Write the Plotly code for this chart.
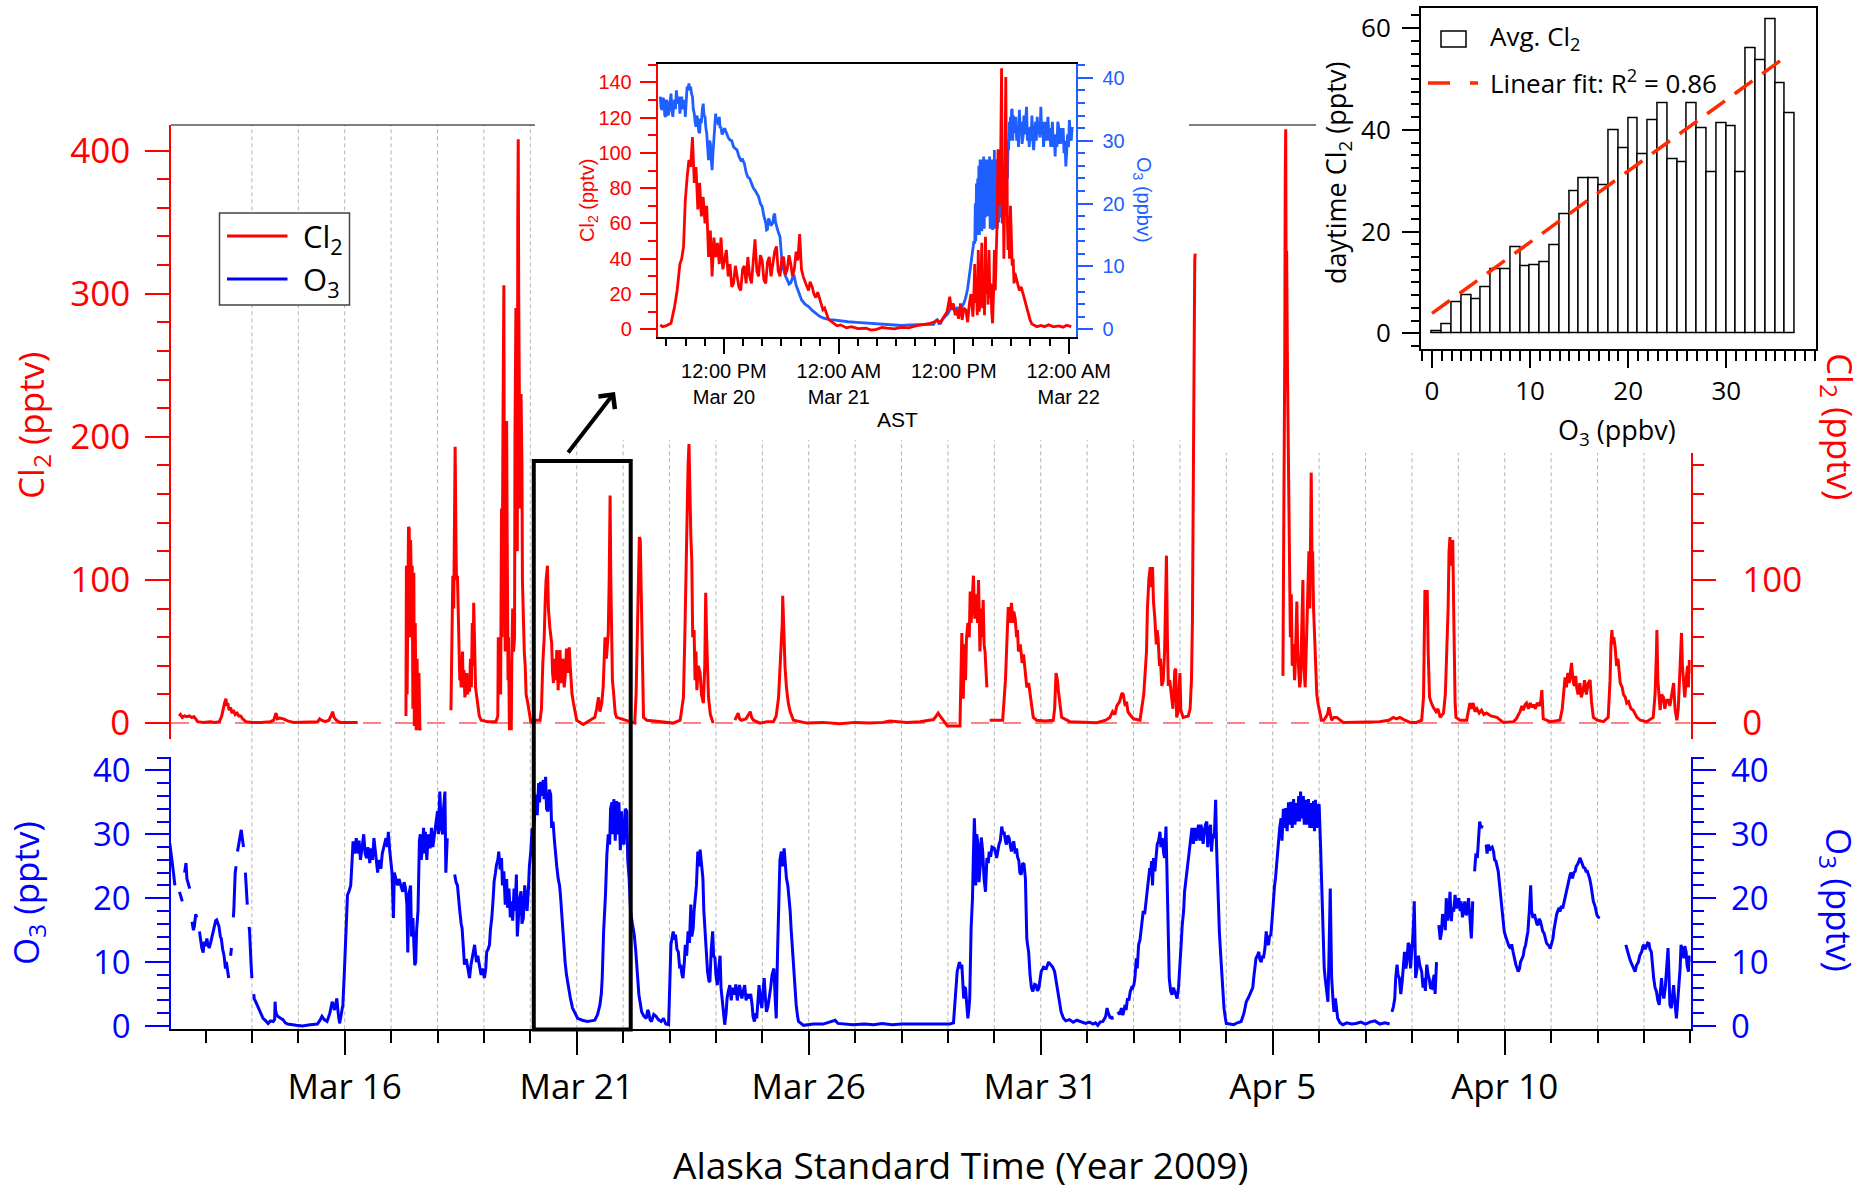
import plotly.graph_objects as go
from datetime import datetime, timedelta

W, H = 1864, 1192

# ------------------------------------------------------------------ data
# main panel Cl2 (pptv): (day of March 2009, value); None = data gap
cl2_main_pts = [
(12.43,5),(12.46,6),(12.50,4),(12.55,5),(12.60,4.5),(12.65,5),(12.70,4),(12.75,4.5),(12.79,3),(12.83,1),(12.95,0.5),(13.10,1),(13.20,0.5),(13.30,1),(13.35,5),(13.38,10),(13.41,14),(13.44,17),(13.46,12),(13.48,14),(13.51,9),(13.54,11),(13.57,7),(13.60,9),(13.64,6),(13.68,7),(13.72,5),(13.76,5),(13.80,3),(13.87,1),(14.0,0.5),(14.2,0.5),(14.40,1),(14.47,2),(14.50,6),(14.52,7),(14.55,3),(14.60,3.5),(14.68,3),(14.77,1.5),(14.9,0.5),(15.1,0.5),(15.3,1),(15.42,1),(15.46,3),(15.50,2),(15.58,1),(15.66,2),(15.72,6),(15.74,8),(15.77,4),(15.82,2),(15.9,0.5),(16.1,0.5),(16.28,0.5),(None,None),
(17.32,5),(17.33,110),(17.345,20),(17.36,130),(17.375,137),(17.39,136),(17.40,60),(17.42,128),(17.44,90),(17.455,110),(17.47,10),(17.49,105),(17.50,-2),(17.52,70),(17.54,-5),(17.56,45),(17.58,-5),(17.60,35),(17.62,-4),(17.64,-5),(None,None),
(18.29,9),(18.31,60),(18.33,103),(18.35,80),(18.37,150),(18.38,193),(18.40,120),(18.41,100),(18.43,103),(18.45,70),(18.46,60),(18.48,30),(18.49,40),(18.51,25),(18.52,35),(18.54,50),(18.55,25),(18.57,37),(18.59,18),(18.61,22),(18.63,35),(18.65,20),(18.67,30),(18.69,22),(18.71,45),(18.73,25),(18.75,70),(18.77,40),(18.78,84),(18.80,50),(18.82,25),(18.84,20),(18.87,12),(18.90,5),(18.94,2),(19.08,1),(19.26,1),(19.30,5),(19.31,60),(19.33,20),(19.345,55),(19.36,20),(19.38,150),(19.39,60),(19.41,200),(19.43,306),(19.44,150),(19.45,120),(19.46,50),(19.47,60),(19.48,170),(19.49,211),(19.50,140),(19.51,95),(19.52,30),(19.53,60),(19.55,-5),(19.57,40),(19.59,-5),(19.60,40),(19.62,80),(19.64,50),(19.66,60),(19.67,200),(19.68,250),(19.69,290),(19.70,180),(19.72,120),(19.73,350),(19.74,408),(19.75,300),(19.76,240),(19.78,150),(19.80,230),(19.82,180),(19.83,100),(19.85,60),(19.87,50),(19.89,40),(19.91,20),(19.94,15),(19.98,5),(20.01,1),(20.05,0),(20.12,2),(20.21,2),(20.24,10),(20.27,42),(20.30,60),(20.32,84),(20.34,100),(20.37,110),(20.39,80),(20.42,67),(20.44,58),(20.46,56),(20.48,35),(20.50,28),(20.52,45),(20.53,42),(20.55,30),(20.57,51),(20.59,35),(20.60,23),(20.62,40),(20.64,51),(20.66,30),(20.68,28),(20.70,45),(20.71,42),(20.73,25),(20.75,32),(20.77,45),(20.78,52),(20.81,35),(20.84,53),(20.86,40),(20.87,32),(20.90,20),(20.93,14),(20.97,6),(21.0,2),(21.14,-1),(21.29,2),(21.39,4),(21.43,10),(21.47,18),(21.50,8),(21.54,14),(21.57,25),(21.61,60),(21.64,45),(21.68,63),(21.70,100),(21.72,159),(21.735,100),(21.75,60),(21.77,30),(21.79,23),(21.83,7),(21.86,4),(22.08,2),(22.25,0),(22.28,20),(22.30,46),(22.33,100),(22.35,130),(22.37,128),(22.39,90),(22.40,74),(22.42,30),(22.44,4),(22.51,2),(23.08,0),(23.23,2),(23.30,18),(23.33,60),(23.36,120),(23.37,151),(23.40,180),(23.42,195),(23.44,150),(23.46,130),(23.48,114),(23.50,60),(23.53,65),(23.55,30),(23.57,50),(23.59,23),(23.62,40),(23.66,35),(23.69,20),(23.73,14),(23.76,40),(23.78,91),(23.80,60),(23.82,30),(23.84,18),(23.88,6),(23.91,2),(23.94,0),(None,None),
(24.41,2),(24.45,5),(24.48,7),(24.51,3),(24.55,2),(24.65,3),(24.70,6),(24.74,8),(24.77,4),(24.81,2),(24.95,0),(25.10,1),(25.24,1),(25.30,5),(25.35,18),(25.38,35),(25.40,50),(25.43,70),(25.44,89),(25.455,70),(25.47,50),(25.49,39),(25.52,25),(25.56,14),(25.60,8),(25.67,2),(25.96,0),(26.3,0.5),(26.67,-0.5),(27.0,0.5),(27.3,0),(27.6,0.5),(27.75,1.5),(27.9,1),(28.11,0.5),(28.4,1),(28.60,2),(28.69,2.5),(28.75,5),(28.79,7),(28.83,5),(28.90,2),(28.99,-2),(29.26,-2),(29.28,30),(29.30,63),(29.32,40),(29.33,17),(29.36,55),(29.38,30),(29.40,59),(29.43,70),(29.46,60),(29.48,92),(29.50,70),(29.53,95),(29.55,103),(29.57,80),(29.58,73),(29.61,90),(29.64,70),(29.66,100),(29.68,60),(29.69,50),(29.72,80),(29.74,60),(29.76,86),(29.78,55),(29.80,50),(29.82,35),(29.84,25),(None,None),
(29.90,2),(30.05,2),(30.18,2),(30.24,30),(30.28,60),(30.30,81),(30.33,70),(30.35,80),(30.37,84),(30.40,70),(30.42,78),(30.45,73),(30.48,60),(30.50,65),(30.52,50),(30.56,55),(30.60,42),(30.63,48),(30.67,35),(30.70,25),(30.74,28),(30.77,20),(30.80,12),(30.84,4),(30.91,2),(31.1,1.5),(31.27,2),(31.30,10),(31.33,35),(31.36,30),(31.38,23),(31.42,10),(31.45,4),(31.63,1),(31.9,0.5),(32.21,0.3),(32.40,2),(32.49,4),(32.55,8),(32.60,6),(32.64,12),(32.70,15),(32.75,21),(32.78,20),(32.82,12),(32.85,15),(32.88,8),(32.92,6),(33.0,3),(33.14,2),(33.22,20),(33.26,45),(33.28,50),(33.30,80),(33.33,100),(33.36,109),(33.38,95),(33.41,109),(33.43,85),(33.46,73),(33.49,55),(33.51,65),(33.53,59),(33.56,40),(33.58,45),(33.61,26),(33.64,30),(33.67,50),(33.69,80),(33.71,117),(33.73,60),(33.75,26),(33.78,30),(33.82,20),(33.85,10),(33.89,37),(33.91,38),(33.93,4),(33.96,8),(34.00,35),(34.02,9),(34.07,4),(34.18,5),(34.22,10),(34.25,31),(34.27,72),(34.29,208),(34.31,280),(34.32,324),(34.33,328),(None,None),
(36.22,33),(36.24,120),(36.26,260),(36.27,380),(36.28,415),(36.29,300),(36.30,330),(36.32,240),(36.33,200),(36.35,120),(36.36,110),(36.38,60),(36.40,90),(36.42,40),(36.45,55),(36.47,30),(36.48,35),(36.50,60),(36.52,85),(36.54,50),(36.56,40),(36.58,25),(36.60,30),(36.62,60),(36.65,100),(36.67,40),(36.70,25),(36.73,60),(36.76,90),(36.78,120),(36.80,80),(36.82,150),(36.83,175),(36.85,100),(36.86,120),(36.88,80),(36.90,60),(36.92,35),(36.95,20),(36.98,13),(37.02,5),(37.05,2),(37.10,2),(37.18,6),(37.21,11),(37.23,8),(37.27,2),(37.32,4),(37.38,4),(37.52,0.5),(37.9,0.5),(38.3,1),(38.5,2),(38.6,4),(38.67,3),(38.74,4),(38.85,2),(38.96,0.5),(39.10,0.5),(39.21,2),(39.25,18),(39.27,60),(39.28,93),(39.30,80),(39.32,90),(39.33,93),(39.35,50),(39.38,18),(39.42,14),(39.46,11),(39.52,8),(39.56,10),(39.61,4),(39.65,6),(39.68,7),(39.72,20),(39.75,46),(39.78,80),(39.80,120),(39.82,130),(39.85,110),(39.88,128),(39.90,80),(39.91,46),(39.93,15),(39.95,4),(40.04,2),(40.18,2),(40.21,8),(40.25,14),(40.28,10),(40.32,14),(40.36,8),(40.40,10),(40.45,7),(40.50,9),(40.55,6),(40.61,7),(40.70,5),(40.83,4),(40.97,0.5),(41.19,1),(41.25,3),(41.30,6),(41.33,8),(41.37,12),(41.40,9),(41.44,13),(41.47,14),(41.51,10),(41.55,14),(41.59,11),(41.62,13),(41.66,10),(41.70,14),(41.75,12),(41.78,16),(41.80,23),(41.81,10),(41.83,3),(41.98,1),(42.19,2),(42.24,10),(42.27,20),(42.30,32),(42.33,25),(42.36,35),(42.39,28),(42.42,38),(42.44,42),(42.47,30),(42.50,26),(42.53,33),(42.55,25),(42.58,20),(42.62,28),(42.65,18),(42.69,23),(42.72,30),(42.76,20),(42.80,28),(42.84,30),(42.87,15),(42.91,4),(43.0,2),(43.13,1),(43.23,4),(43.27,30),(43.29,55),(43.31,65),(43.33,55),(43.35,60),(43.38,53),(43.41,40),(43.44,45),(43.47,30),(43.49,28),(43.53,25),(43.56,20),(43.60,18),(43.63,14),(43.67,15),(43.72,10),(43.77,9),(43.85,4),(43.92,2),(44.06,1),(44.20,4),(44.24,20),(44.27,50),(44.28,65),(44.30,30),(44.33,15),(44.35,9),(44.38,20),(44.42,18),(44.45,10),(44.49,16),(44.53,16),(44.56,12),(44.60,20),(44.64,28),(44.67,10),(44.71,2),(44.74,10),(44.77,35),(44.80,55),(44.81,63),(44.83,40),(44.86,25),(44.88,18),(44.91,30),(44.94,40),(44.96,25),(44.98,44),(45.0,35),
]

# main panel O3: (day of March 2009, value)
o3_main_pts = [
(12.23,28.6),(12.26,27),(12.28,26.3),(12.31,24),(12.34,22),(None,None),
(12.44,21),(12.47,20),(12.50,19.5),(None,None),
(12.55,24),(12.58,25.5),(12.60,23),(12.63,22),(12.66,21.5),(None,None),
(12.71,16.3),(12.74,15),(12.76,15.6),(12.79,17.5),(12.81,17),(None,None),
(12.87,14.8),(12.90,13),(12.92,12.2),(12.95,11.5),(12.97,13.2),(13.00,12.5),(13.03,13.7),(13.05,12.8),(13.08,12.2),(13.11,13),(13.13,13.7),(13.16,14.5),(13.19,15.8),(13.22,16.5),(13.24,16.6),(13.27,16),(13.29,15.6),(13.32,14),(13.34,13.7),(13.37,12),(13.40,11),(13.43,9),(13.45,10),(13.48,8.5),(13.50,7.5),(None,None),
(13.54,11),(13.56,12.2),(None,None),
(13.60,17),(13.61,18),(13.64,24),(13.66,25),(None,None),(13.69,27.3),(13.72,28.5),(13.75,30),(13.77,30.7),(13.80,29),(13.82,28),(None,None),
(13.86,24),(13.87,23),(13.90,19),(None,None),(13.94,15.5),(13.95,14.8),(13.98,10),(14.00,7.5),(None,None),
(14.04,5),(14.05,4.3),(14.10,3.5),(14.14,2.8),(14.19,2),(14.24,1.2),(14.30,0.8),(14.35,0.4),(14.40,0.8),(14.46,0.7),(14.49,1),(14.50,3.8),(14.51,2.5),(14.53,1.8),(14.56,1.5),(14.62,1.2),(14.67,1),(14.72,0.5),(14.77,0.3),(14.95,0.1),(15.09,0),(15.25,0.2),(15.41,0.3),(15.46,0.8),(15.51,1.5),(15.56,1),(15.62,0.7),(15.68,2),(15.73,3.8),(15.78,2.5),(15.83,4.3),(15.86,2),(15.89,0.4),(15.93,2),(15.96,3.3),(15.99,8),(16.02,12.7),(16.04,17),(16.06,20.5),(16.09,21),(16.13,22),(16.16,26),(16.18,28.9),(16.21,27),(16.25,29.4),(16.28,27),(16.31,29),(16.34,26),(16.36,27.3),(16.39,29),(16.41,30),(16.44,27),(16.47,26.3),(16.50,28),(16.54,25.5),(16.57,27.8),(16.60,26),(16.63,29.4),(16.66,27),(16.68,25.2),(16.71,24),(16.74,26),(16.78,24.6),(16.81,27),(16.85,28),(16.89,29.4),(16.92,28),(16.94,30.4),(16.97,27.5),(16.99,25.7),(17.02,24),(17.05,16.9),(17.07,24),(17.10,23.1),(17.14,22),(17.17,23),(17.21,22),(17.25,21),(17.28,22.5),(17.31,21.6),(17.34,19),(17.36,11.5),(17.38,20.5),(17.42,22),(17.44,14),(17.47,16.9),(17.49,13),(17.51,9.5),(17.53,10),(17.55,15),(17.58,18),(17.60,24),(17.61,29),(17.63,30),(17.65,26),(17.68,28.4),(17.70,31),(17.72,27),(17.74,30.4),(17.77,26),(17.80,30),(17.84,27.8),(17.87,31),(17.90,28),(17.93,30),(17.96,32),(18.00,33.6),(18.02,30),(18.05,36.7),(18.08,31),(18.11,30),(18.13,34),(18.16,36.7),(18.18,24),(18.21,29.4),(None,None),
(18.37,23.7),(18.40,22.5),(18.43,22),(18.45,20),(18.48,18),(18.51,16),(18.53,15.3),(18.56,12),(18.58,9.6),(18.62,10.5),(18.66,8.5),(18.69,7.5),(18.72,9.5),(18.76,11.5),(18.80,12.7),(18.84,10),(18.87,11),(18.90,9.6),(18.94,8),(18.97,9),(19.01,7.5),(19.04,9),(19.06,11.6),(19.09,12),(19.12,12.7),(19.14,15),(19.17,16.9),(19.20,20),(19.22,22.6),(19.25,24),(19.27,25.2),(19.30,26),(19.32,27.3),(19.35,24.5),(19.38,26.3),(19.40,22),(19.43,24.2),(19.46,19),(19.49,23),(19.51,18.5),(19.54,21.5),(19.57,17),(19.59,19.5),(19.62,16.5),(19.65,21.5),(19.67,18),(19.70,23.7),(19.72,14),(19.75,17.9),(19.77,20),(19.80,21.1),(19.82,16),(19.85,16.9),(19.88,22),(19.91,19.5),(19.93,18),(19.96,21.5),(19.98,25),(20.01,27.3),(20.04,31),(20.07,30),(20.10,35),(20.12,36.2),(20.15,33),(20.18,38),(20.20,35),(20.22,38.2),(20.25,36),(20.28,38.5),(20.30,35.5),(20.33,39),(20.35,34),(20.38,33.6),(20.41,37),(20.44,36.2),(20.46,31),(20.49,32),(20.52,29),(20.54,26.8),(20.57,25),(20.60,23.1),(20.63,22),(20.65,20.5),(20.68,17),(20.70,15.3),(20.73,12),(20.75,10),(20.78,8),(20.81,6.4),(20.86,4.5),(20.91,2.8),(20.96,2),(21.02,1.2),(21.12,0.9),(21.23,0.7),(21.31,0.8),(21.39,0.9),(21.45,1.8),(21.50,3.3),(21.53,5),(21.55,7.5),(21.58,14.8),(21.60,17),(21.62,20.5),(21.65,26.8),(21.68,30),(21.71,28.4),(21.73,34),(21.76,35),(21.78,30),(21.80,35.5),(21.83,29),(21.86,35.2),(21.88,30),(21.91,35),(21.94,27.5),(21.97,33.6),(21.99,29),(22.02,28.4),(22.05,34),(22.08,33.6),(22.10,26),(22.13,23.1),(22.16,18),(22.20,16),(22.24,14.3),(22.27,12),(22.29,10),(22.32,7),(22.34,4.9),(22.40,2.2),(22.45,1.5),(22.50,1.2),(22.53,2.5),(22.55,2.2),(22.58,1),(22.61,0.7),(22.66,1.8),(22.71,1.5),(22.76,1),(22.82,0.7),(22.87,1.2),(22.92,0.3),(22.98,0.2),(23.00,5),(23.03,12.7),(23.06,14),(23.08,14.8),(23.11,13.5),(23.13,14.3),(23.16,12),(23.19,11.6),(23.22,9),(23.24,9.6),(23.27,8),(23.29,7.5),(23.32,10),(23.34,12.7),(23.37,11),(23.40,14.8),(23.43,13),(23.46,19),(23.48,14),(23.51,15.3),(23.53,18),(23.56,20),(23.58,22),(23.61,27.3),(23.63,25),(23.66,27.6),(23.69,25),(23.72,23.1),(23.74,18),(23.77,14.8),(23.80,10),(23.82,8.5),(23.85,7),(23.87,6.9),(23.90,12),(23.93,14.8),(23.95,11),(23.98,10.6),(24.00,8),(24.03,6.4),(24.06,9),(24.09,11),(24.11,6),(24.14,3.8),(24.17,1.5),(24.19,0.2),(24.22,2),(24.24,4.3),(24.27,5.5),(24.30,6.4),(24.33,4),(24.36,6),(24.40,4.9),(24.43,6.5),(24.46,4),(24.51,6.4),(24.54,5),(24.56,4.3),(24.59,5.5),(24.62,6.4),(24.65,4),(24.68,5),(24.72,4.3),(24.75,5),(24.78,3.3),(24.80,1.5),(24.83,0.7),(24.86,2),(24.88,1.2),(24.90,4),(24.93,6.4),(24.96,4),(24.99,2.8),(25.01,5),(25.04,7.5),(25.07,4),(25.09,2.2),(25.12,3),(25.15,4.3),(25.18,6),(25.21,8),(25.25,9),(25.28,4),(25.30,1.2),(25.33,12),(25.36,22),(25.38,26),(25.41,27.3),(25.44,25),(25.47,27.8),(25.50,24.5),(25.52,23.1),(25.55,22),(25.57,20.5),(25.60,18),(25.62,15.3),(25.65,12),(25.68,8.5),(25.70,5),(25.73,3.3),(25.76,1.5),(25.78,0.7),(25.89,0.1),(26.10,0.3),(26.31,0.3),(26.45,0.6),(26.52,0.7),(26.57,0.9),(26.63,0.4),(26.80,0.3),(26.95,0.2),(27.20,0.3),(27.40,0.2),(27.58,0.4),(27.80,0.2),(28.00,0.3),(28.30,0.3),(28.50,0.2),(28.72,0.3),(29.04,0.3),(29.12,0.5),(29.15,3.3),(29.18,6),(29.20,8.5),(29.23,9.5),(29.25,10),(29.28,9),(29.30,9.6),(29.32,7),(29.34,4.3),(29.36,6),(29.38,5.9),(29.41,3),(29.43,1.2),(29.45,2.5),(29.47,4.3),(29.50,15.3),(29.53,20),(29.55,27),(29.57,32.5),(29.59,28),(29.60,22),(29.62,30),(29.65,28.4),(29.67,22.5),(29.70,25.3),(29.72,29.5),(29.75,27.3),(29.78,23),(29.81,21),(29.84,26.3),(29.87,25.5),(29.89,27.3),(29.92,26.5),(29.95,28),(30.00,27.8),(30.03,27),(30.05,26.3),(30.08,27.5),(30.10,28.4),(30.13,29),(30.16,31.2),(30.19,30),(30.21,30.4),(30.24,29),(30.26,28.4),(30.29,29.8),(30.32,29.4),(30.35,28),(30.37,27.3),(30.40,28.5),(30.42,28.9),(30.45,27),(30.48,27.8),(30.50,26.5),(30.53,25.8),(30.55,24),(30.58,23.7),(30.61,25.5),(30.64,25.3),(30.67,23.1),(30.70,13.7),(30.72,12.5),(30.74,11.6),(30.77,8),(30.80,6),(30.83,5.4),(30.87,6.5),(30.90,6.4),(30.93,5.5),(30.96,5.9),(31.01,8.5),(31.06,9.2),(31.12,9),(31.17,10),(31.22,9.6),(31.26,9.2),(31.30,8.5),(31.33,7),(31.36,5.4),(31.40,3.5),(31.44,2.2),(31.49,1.2),(31.54,0.8),(31.62,1),(31.70,0.6),(31.78,0.9),(31.86,0.7),(31.92,0.5),(31.97,0.4),(32.05,0.6),(32.13,0.3),(32.18,0.5),(32.23,0.1),(32.28,0.6),(32.34,0.7),(32.40,1.5),(32.43,2.8),(32.45,2.2),(32.48,1.5),(32.50,1.2),(32.53,1.5),(32.55,1),(None,None),
(32.66,2.2),(32.70,1.8),(32.74,2.8),(32.77,1.7),(32.82,3.3),(32.84,2.5),(32.87,4.3),(32.90,4),(32.93,5.4),(32.96,6),(32.98,5.9),(33.01,6.5),(33.03,7.5),(33.06,10.6),(33.08,9),(33.11,12.7),(33.14,13.5),(33.16,14.8),(33.19,16),(33.21,18),(33.24,17.5),(33.27,19.5),(33.30,21),(33.32,22),(33.35,24.7),(33.37,24),(33.39,25.8),(33.41,22),(33.43,26.3),(33.46,24.2),(33.48,26),(33.51,28.4),(33.54,29),(33.57,30.4),(33.59,28),(33.62,29.4),(33.65,27),(33.67,26.3),(33.70,31.2),(33.72,25),(33.74,17.9),(33.77,7.5),(33.80,5.5),(33.83,4.9),(33.86,6),(33.89,5.4),(33.92,4.5),(33.94,4.3),(33.97,6),(33.99,8),(34.02,12),(34.05,15.8),(34.08,18),(34.10,21),(34.13,23),(34.15,24.2),(34.18,26),(34.21,28.4),(34.24,30),(34.26,31),(34.29,28.5),(34.32,31),(34.35,29),(34.37,30.4),(34.40,31.5),(34.43,29),(34.45,31.5),(34.47,31),(34.50,28.5),(34.52,29.9),(34.55,31.5),(34.58,32),(34.60,28),(34.63,30.4),(34.66,31.5),(34.68,27.3),(34.71,30),(34.74,29.4),(34.77,35.4),(34.79,28),(34.81,23.1),(34.83,18),(34.85,14.8),(34.88,11),(34.90,8.5),(34.93,5),(34.95,2.8),(34.98,1.2),(35.00,0.4),(35.08,0.3),(35.16,0.2),(35.24,0.5),(35.32,0.7),(35.38,2),(35.43,3.8),(35.48,4.5),(35.54,5.4),(35.57,6),(35.59,7.5),(35.62,9),(35.64,10.6),(35.67,11),(35.70,11.6),(35.72,10.5),(35.75,10),(35.78,11),(35.80,10.6),(35.83,12),(35.86,14.8),(35.88,13),(35.91,12.7),(35.93,14),(35.96,14.3),(35.99,17),(36.02,20.5),(36.04,22),(36.06,23.1),(36.09,26),(36.12,28.4),(36.15,31),(36.18,32.5),(36.20,29),(36.23,34),(36.26,31),(36.28,34.1),(36.31,30.5),(36.34,35),(36.36,31.5),(36.39,35.1),(36.42,31),(36.45,35.5),(36.48,31.5),(36.50,34.9),(36.53,32),(36.56,36),(36.58,32),(36.60,36.7),(36.63,32.5),(36.66,36),(36.68,31.5),(36.71,35.4),(36.74,31.5),(36.77,35.5),(36.80,31),(36.82,34.9),(36.85,31),(36.88,35.2),(36.90,30.5),(36.92,35.4),(36.95,31),(36.98,34.5),(37.00,34.7),(37.03,28.4),(37.06,20.5),(37.09,12.7),(37.11,9),(37.13,7.5),(37.16,5),(37.19,3.8),(37.21,10),(37.24,21.5),(37.26,12),(37.27,7.5),(37.30,4),(37.32,2.2),(37.35,4.3),(37.38,2),(37.40,1.2),(37.45,0.5),(37.51,0.2),(37.60,0.5),(37.70,0.3),(37.79,0.4),(37.90,0.6),(38.00,0.3),(38.09,0.6),(38.20,0.8),(38.31,0.3),(38.42,0.5),(38.52,0.3),(None,None),
(38.57,2.2),(38.60,3),(38.63,4.3),(38.65,7.5),(38.68,9.6),(38.70,8),(38.73,7.5),(38.76,5),(38.79,6.9),(38.81,9),(38.84,11.6),(38.87,9),(38.89,10),(38.92,13),(38.94,12.7),(38.97,9),(38.99,10.6),(39.02,14),(39.04,17),(39.05,19.5),(39.07,12),(39.08,7.5),(39.11,9),(39.14,11),(39.17,9.5),(39.21,8.5),(39.24,6),(39.27,7.5),(39.29,5.5),(39.32,9.6),(39.35,8),(39.37,7.5),(39.40,6),(39.43,5.9),(39.45,7),(39.48,8),(39.50,5),(39.53,10),(None,None),
(39.58,15.8),(39.61,13.5),(39.64,14.8),(39.66,17.5),(39.69,16.9),(39.72,15),(39.74,20),(39.77,16.5),(39.80,17.9),(39.82,21),(39.85,16.4),(39.87,18.5),(39.90,17.9),(39.93,20.5),(39.96,18.4),(39.98,19),(40.01,20),(40.04,18),(40.06,19.5),(40.09,17),(40.11,18.4),(40.14,19.5),(40.17,17.3),(40.20,18.5),(40.22,20),(40.25,17),(40.28,13.7),(40.30,17),(40.31,19.5),(None,None),
(40.35,24.2),(40.38,27),(40.41,26.3),(40.44,29),(40.46,32),(40.49,31),(40.52,31.4),(None,None),
(40.60,28.4),(40.62,27),(40.65,28.4),(40.67,27.5),(40.70,27.8),(40.73,28),(40.76,27.3),(40.78,26),(40.81,25.8),(40.84,24.5),(40.86,24.2),(40.89,22),(40.92,20),(40.94,18.4),(40.97,16),(40.99,14.8),(41.02,14),(41.05,13.2),(41.09,12.5),(41.13,12.1),(41.15,12.8),(41.18,11.6),(41.21,10.5),(41.24,9.6),(41.27,9),(41.29,8.5),(41.32,9),(41.34,10),(41.37,10.5),(41.40,11),(41.42,12),(41.45,12.7),(41.48,14),(41.50,14.8),(41.53,18),(41.55,20),(41.56,22),(41.58,18),(41.61,16.9),(41.64,17.5),(41.66,16.9),(41.69,16),(41.72,15.8),(41.74,16.8),(41.77,16.4),(41.80,15.5),(41.82,14.8),(41.85,14.5),(41.88,13.7),(41.90,13),(41.93,12.7),(41.96,12.5),(41.98,12.1),(42.01,13),(42.04,13.7),(42.06,15),(42.09,16.4),(42.12,17.5),(42.14,17.9),(42.17,18.5),(42.19,17.9),(42.22,18.8),(42.25,18.4),(42.28,19.5),(42.30,20),(42.33,21),(42.35,22),(42.38,23),(42.41,23.7),(42.43,24),(42.46,23.1),(42.49,24),(42.52,24.2),(42.54,25),(42.57,25.3),(42.60,25.8),(42.62,26.3),(42.65,25.8),(42.67,25.3),(42.70,24.8),(42.73,24.7),(42.75,24.2),(42.78,24.2),(42.81,23.5),(42.83,23.1),(42.86,22),(42.89,20.5),(42.91,19.5),(42.94,18.9),(42.97,18),(42.99,17.3),(43.02,17),(43.05,16.9),(None,None),
(43.61,12.7),(43.65,11.5),(43.69,10.6),(43.72,10),(43.74,9.6),(43.78,9),(43.81,8.5),(43.84,9.5),(43.88,10),(43.91,11),(43.95,11.6),(43.98,12.5),(44.00,12.7),(44.03,12),(44.06,12.7),(44.08,13),(44.11,12.9),(44.13,12),(44.16,11.6),(44.18,9.5),(44.21,7.5),(44.24,6),(44.27,5.4),(44.30,4),(44.33,3.3),(44.35,5),(44.38,7.5),(44.40,5.5),(44.43,4.3),(44.46,6),(44.49,8.5),(44.51,11),(44.52,12.2),(44.54,8),(44.56,3.3),(44.59,2.8),(44.62,5),(44.64,6.4),(44.67,3.5),(44.70,1.2),(44.72,3),(44.75,5.4),(44.78,9),(44.80,12.7),(44.83,11.5),(44.86,10.6),(44.88,12.5),(44.91,11.6),(44.93,9.5),(44.96,8.5),(44.98,11),(45.0,10),
]

# inset: hours after 2009-03-20 00:00 AST
cl2_inset_pts = [
(5.36,2.5),(5.6,1.5),(5.92,1.9),(6.2,2.8),(6.48,3.4),(6.85,12.8),(7.12,22),(7.41,37),(7.6,40),(7.79,47),(7.97,73),(8.16,86),(8.35,96),(8.53,92),(8.72,109),(8.91,83),(9.09,92),(9.28,68),(9.47,83),(9.65,64),(9.84,75),(10.03,60),(10.21,70),(10.40,41),(10.59,56),(10.77,30),(10.96,52),(11.14,41),(11.33,49),(11.52,37),(11.70,52),(11.89,34),(12.08,41),(12.26,45),(12.45,30),(12.64,37),(12.82,24),(13.01,26),(13.2,36),(13.38,30),(13.57,24),(13.76,22),(13.95,34),(14.13,36),(14.32,26),(14.50,41),(14.69,30),(14.88,26),(15.06,40),(15.25,51),(15.44,33),(15.62,30),(15.81,42),(16.00,39),(16.18,28),(16.37,26),(16.55,38),(16.74,41),(16.92,30),(17.11,36),(17.3,44),(17.49,47),(17.67,33),(17.86,30),(18.05,40),(18.23,41),(18.42,31),(18.61,34),(18.8,42),(18.98,37),(19.17,30),(19.35,34),(19.54,44),(19.72,39),(19.91,54),(20.10,34),(20.28,30),(20.55,26),(20.84,22),(21.0,27),(21.22,24),(21.4,20),(21.59,18),(21.8,21),(21.96,18),(22.15,14),(22.34,11),(22.52,12),(22.71,9),(22.9,6),(23.08,5),(23.45,3.4),(23.8,2),(24.20,2.5),(24.8,0.8),(25.32,1.5),(26.0,0.4),(26.81,0.6),(27.4,-0.5),(27.93,0),(28.5,1),(29.05,0.6),(29.8,0.2),(30.54,1.1),(31.3,0.8),(32.03,1.9),(32.8,2.6),(33.53,3.4),(34.0,4.2),(34.27,5.3),(34.6,3.8),(35.02,7.2),(35.3,10),(35.58,18.5),(35.75,11),(35.95,14.7),(36.15,8),(36.32,11),(36.50,6),(36.70,14.7),(36.88,5.3),(37.05,12),(37.26,11),(37.45,4),(37.63,14.7),(37.8,20),(38.00,7.2),(38.1,20),(38.19,37),(38.28,15),(38.37,22),(38.46,8),(38.56,45),(38.65,10),(38.75,15),(38.84,30),(38.93,49),(39.02,12),(39.12,26),(39.21,8),(39.31,52.5),(39.40,20),(39.49,36),(39.58,14),(39.68,45),(39.77,18),(39.87,26),(39.96,10),(40.05,3.4),(40.15,20),(40.24,45),(40.33,22),(40.43,41),(40.52,60),(40.62,102),(40.71,70),(40.80,73),(40.90,100),(40.99,148),(41.08,60),(41.17,83),(41.23,40),(41.29,64),(41.36,100),(41.43,143),(41.49,90),(41.55,102),(41.60,60),(41.66,45),(41.73,64),(41.82,40),(41.92,70),(42.01,48),(42.10,36),(42.20,40),(42.29,26),(42.38,32),(42.48,30),(42.66,25),(42.85,22),(43.04,24),(43.23,20),(43.4,17),(43.60,13),(43.78,8),(43.97,5.3),(44.15,3),(44.34,2.5),(44.7,1.5),(45.1,2.2),(45.46,1.5),(45.9,2.6),(46.4,1.4),(46.95,1.9),(47.4,1.2),(47.8,2.3),(48.26,1.5),
]
o3_inset_pts = [
(5.36,37.0),(5.45,35.2),(5.55,34.9),(5.64,36.8),(5.74,36.5),(5.83,34),(5.92,33.8),(6.02,36.5),(6.11,36.0),(6.2,34),(6.30,34.9),(6.39,37),(6.48,37.5),(6.58,35),(6.67,33.8),(6.76,36),(6.86,36.5),(6.95,35),(7.04,38.0),(7.13,36.5),(7.23,35.9),(7.32,37),(7.41,34.3),(7.5,36),(7.60,37.0),(7.7,35),(7.79,35.4),(7.88,36.5),(7.97,33.8),(8.06,36),(8.16,38.6),(8.25,38.2),(8.35,39.1),(8.44,38),(8.53,38.6),(8.62,37.5),(8.72,37.0),(8.81,35),(8.91,34.3),(9.0,33),(9.09,32.2),(9.18,34),(9.28,33.3),(9.37,31.5),(9.47,31.2),(9.56,33.5),(9.65,32.8),(9.75,35),(9.84,35.9),(9.93,34),(10.03,33.8),(10.12,32),(10.21,31.2),(10.3,29),(10.40,26.9),(10.5,30),(10.59,29.6),(10.68,27),(10.77,25.3),(10.86,28),(10.96,30.7),(11.05,33),(11.14,34.3),(11.24,33),(11.33,33.3),(11.42,32.5),(11.52,33.8),(11.61,32),(11.70,32.2),(11.8,31),(11.89,31.2),(12.08,32),(12.26,31.2),(12.45,30.5),(12.64,30.1),(12.82,30),(13.01,29.0),(13.2,28.8),(13.38,28.5),(13.57,27.5),(13.76,26.9),(13.95,27),(14.13,26.4),(14.32,25),(14.50,24.2),(14.69,24),(14.88,23.2),(15.06,22.5),(15.25,22.1),(15.44,21.5),(15.62,21.1),(15.81,20),(16.00,19.5),(16.18,18),(16.37,16.9),(16.46,15.8),(16.55,15.9),(16.64,17.6),(16.74,17.4),(16.92,16.5),(17.11,16.9),(17.2,18),(17.30,18.4),(17.4,17),(17.49,16.3),(17.67,15.5),(17.86,14.7),(17.95,12.5),(18.05,11.0),(18.14,10),(18.23,9.5),(18.42,8.5),(18.61,7.9),(18.8,7.2),(18.98,7.4),(19.17,8.2),(19.35,8.4),(19.54,7),(19.72,6.3),(19.91,5.5),(20.10,4.7),(20.47,4),(20.84,3.6),(21.22,3),(21.59,2.5),(21.96,2.1),(22.34,1.8),(22.71,1.6),(23.08,1.5),(23.45,1.5),(23.83,1.4),(24.39,1.3),(24.95,1.2),(25.88,1.1),(26.81,1.0),(27.74,0.8),(28.68,0.7),(29.61,0.6),(30.54,0.6),(31.47,0.7),(32.41,0.7),(33.15,0.8),(33.90,0.8),(34.08,1.3),(34.27,1.5),(34.45,0.9),(34.64,1.0),(34.83,1.6),(35.02,2.0),(35.2,2.2),(35.39,2.5),(35.58,3),(35.76,3.6),(35.95,3.2),(36.14,3.1),(36.32,3.4),(36.51,3.3),(36.70,3.4),(36.88,3.6),(37.07,4.2),(37.26,5.1),(37.45,6.5),(37.63,8.4),(37.82,10.5),(38.00,12.6),(38.10,14),(38.19,13.6),(38.25,20),(38.30,14),(38.37,23.2),(38.43,15),(38.50,24),(38.56,16.9),(38.62,26),(38.68,15),(38.75,27.0),(38.81,16),(38.87,26),(38.93,15.6),(39.0,27),(39.06,17),(39.12,27.5),(39.18,16),(39.25,26),(39.31,17.8),(39.37,27),(39.43,19),(39.49,25.3),(39.55,18),(39.62,27),(39.68,22.1),(39.74,27.5),(39.80,16),(39.87,26.9),(39.93,18),(39.99,27),(40.05,15.8),(40.12,27),(40.18,17),(40.24,28.5),(40.30,16),(40.37,27),(40.43,17.8),(40.49,25),(40.55,16),(40.62,23.2),(40.68,17),(40.74,24),(40.80,17.8),(40.86,25),(40.93,18),(40.99,22.1),(41.05,17),(41.11,24),(41.17,17.8),(41.24,25),(41.30,18),(41.36,21.1),(41.42,27),(41.49,18),(41.55,26.9),(41.61,24),(41.67,30),(41.73,28.5),(41.79,33),(41.86,30),(41.92,33.8),(41.98,31),(42.04,35),(42.10,34.9),(42.16,30),(42.23,34),(42.29,31.2),(42.38,33),(42.48,33.8),(42.57,30),(42.66,32.2),(42.76,29),(42.85,34.9),(42.95,31),(43.04,33),(43.13,29.5),(43.23,30.6),(43.32,34),(43.41,31),(43.51,33.5),(43.60,35.4),(43.69,30),(43.79,32),(43.88,29),(43.97,32.2),(44.06,30),(44.16,34),(44.25,30),(44.34,28.5),(44.43,31),(44.53,33),(44.62,30),(44.71,33.8),(44.81,31),(44.9,33),(45.0,30.5),(45.09,35.4),(45.18,31),(45.28,33),(45.37,29),(45.46,30.7),(45.56,33),(45.65,30),(45.74,32),(45.84,33.8),(45.93,30),(46.02,32),(46.12,29),(46.21,31.2),(46.3,33),(46.40,29),(46.49,31),(46.58,27.5),(46.67,31),(46.77,29),(46.86,33),(46.95,32.2),(47.05,29.5),(47.14,32),(47.23,30),(47.33,29.6),(47.42,32),(47.51,28),(47.61,30),(47.70,25.9),(47.79,30),(47.89,31),(47.98,29),(48.07,33.3),(48.16,31),(48.26,30),(48.37,32.2),
]

# histogram inset: O3 bin centres (ppbv) and mean daytime Cl2 (pptv)
hist_o3_bins = [0.5,1.5,2.5,3.5,4.5,5.5,6.5,7.5,8.5,9.5,10.5,11.5,12.5,13.5,14.5,15.5,16.5,17.5,18.5,19.5,20.5,21.5,22.5,23.5,24.5,25.5,26.5,27.5,28.5,29.5,30.5,31.5,32.5,33.5,34.5,35.5,36.5]
hist_cl2_avg = [0.3,1.8,6.0,7.4,6.6,9.0,12.6,12.6,16.9,13.1,13.3,14.0,17.3,23.3,28.0,30.4,30.4,29.0,39.9,36.3,42.2,35.1,41.9,45.3,34.3,33.6,45.2,40.3,31.7,41.3,40.7,31.7,56.1,53.6,61.8,49.2,43.3]
fit_o3 = [0, 36]
fit_cl2 = [3.9, 54.3]

main_tick_days = [16, 21, 26, 31, 36, 41]
main_tick_text = ['Mar 16', 'Mar 21', 'Mar 26', 'Mar 31', 'Apr 5', 'Apr 10']
inset_tick_hours = [12, 24, 36, 48]
inset_tick_text = ['12:00 PM<br>Mar 20', '12:00 AM<br>Mar 21', '12:00 PM', '12:00 AM<br>Mar 22']

# ------------------------------------------------------------------ helpers
BASE = datetime(2009, 3, 1)
INSET0 = datetime(2009, 3, 20)

def mday(d):
    return None if d is None else BASE + timedelta(days=d - 1)

def ihour(h):
    return None if h is None else INSET0 + timedelta(hours=h)

def P(x):   # pixel x -> paper
    return x / W

def Q(y):   # pixel y -> paper
    return 1 - y / H

cl2_x = [mday(t) for t, v in cl2_main_pts]
cl2_y = [v for t, v in cl2_main_pts]
o3_x = [mday(t) for t, v in o3_main_pts]
o3_y = [v for t, v in o3_main_pts]
ci_x = [ihour(t) for t, v in cl2_inset_pts]
ci_y = [v for t, v in cl2_inset_pts]
oi_x = [ihour(t) for t, v in o3_inset_pts]
oi_y = [v for t, v in o3_inset_pts]

RED = '#ff0000'
BLUE = '#0000ff'
IBLUE = '#1f5fff'
FIT = '#ff2a00'
MF = 'Open Sans'
AF = 'Liberation Sans'

fig = go.Figure()
fig.add_trace(go.Scatter(x=cl2_x, y=cl2_y, mode='lines', line=dict(color=RED, width=3),
                         xaxis='x', yaxis='y', showlegend=False, hoverinfo='skip'))
fig.add_trace(go.Scatter(x=o3_x, y=o3_y, mode='lines', line=dict(color=BLUE, width=3),
                         xaxis='x', yaxis='y2', showlegend=False, hoverinfo='skip'))
fig.add_trace(go.Scatter(x=[], y=[], xaxis='x', yaxis='y3', showlegend=False))
fig.add_trace(go.Scatter(x=[], y=[], xaxis='x', yaxis='y4', showlegend=False))
# inset 1
fig.add_trace(go.Scatter(x=oi_x, y=oi_y, mode='lines', line=dict(color=IBLUE, width=2.8),
                         xaxis='x2', yaxis='y5', showlegend=False, hoverinfo='skip'))
fig.add_trace(go.Scatter(x=ci_x, y=ci_y, mode='lines', line=dict(color=RED, width=2.8),
                         xaxis='x2', yaxis='y6', showlegend=False, hoverinfo='skip'))
# inset 2
fig.add_trace(go.Bar(x=hist_o3_bins, y=hist_cl2_avg, width=1,
                     marker=dict(color='white', line=dict(color='black', width=1.5)),
                     xaxis='x3', yaxis='y7', showlegend=False, hoverinfo='skip'))
fig.add_trace(go.Scatter(x=fit_o3, y=fit_cl2, mode='lines',
                         line=dict(color=FIT, width=3.5, dash='22px,12px'),
                         xaxis='x3', yaxis='y7', showlegend=False, hoverinfo='skip'))

common = dict(showgrid=False, zeroline=False, automargin=False)

def yax(color, size, family=MF, **kw):
    d = dict(common)
    d.update(showline=True, linecolor=color, linewidth=1.5, ticks='outside', tickwidth=1.5,
             tickcolor=color, tickfont=dict(family=family, size=size, color=color))
    d.update(kw)
    return d

layout = dict(
    width=W, height=H, margin=dict(l=0, r=0, t=0, b=0),
    paper_bgcolor='white', plot_bgcolor='rgba(0,0,0,0)', template='none',
    font=dict(family=MF, color='black'), bargap=0,
    xaxis=dict(common, domain=[P(171), P(1690.6)], anchor='y2', type='date',
               range=[mday(12.2565), mday(45.006)], showline=True, linecolor='black', linewidth=1.5,
               ticks='outside', ticklen=24, tickwidth=1.5, tickcolor='black', tickmode='array',
               tickvals=[mday(d) for d in main_tick_days], ticktext=main_tick_text,
               tickfont=dict(family=MF, size=35, color='black'), ticklabelstandoff=2,
               minor=dict(ticks='outside', ticklen=12, tickwidth=1.5, tickcolor='black',
                          tickmode='linear', tick0='2009-03-12', dtick=86400000)),
    yaxis=yax(RED, 35, domain=[Q(738.5), Q(125)], anchor='x', range=[-10.76, 417.9],
              ticklen=24, tickmode='array', tickvals=[0, 100, 200, 300, 400], ticklabelstandoff=8,
              minor=dict(ticks='outside', ticklen=12, tickwidth=1.5, tickcolor=RED, tickmode='array',
                         tickvals=[20, 40, 60, 80, 120, 140, 160, 180, 220, 240, 260, 280, 320, 340, 360, 380])),
    yaxis2=yax(BLUE, 33, domain=[Q(1029.3), Q(757)], anchor='x', range=[-0.52, 42.1],
               ticklen=24, tickmode='array', tickvals=[0, 10, 20, 30, 40], ticklabelstandoff=8,
               minor=dict(ticks='outside', ticklen=12, tickwidth=1.5, tickcolor=BLUE,
                          tickmode='linear', tick0=0, dtick=2)),
    yaxis3=yax(BLUE, 33, overlaying='y2', side='right', anchor='x', range=[-0.52, 42.1],
               ticklen=24, tickmode='array', tickvals=[0, 10, 20, 30, 40], ticklabelstandoff=8,
               minor=dict(ticks='outside', ticklen=12, tickwidth=1.5, tickcolor=BLUE,
                          tickmode='linear', tick0=0, dtick=2)),
    yaxis4=yax(RED, 35, domain=[Q(738.5), Q(453)], anchor='x', side='right', range=[-10.76, 188.7],
               ticklen=24, tickmode='array', tickvals=[0, 100], ticklabelstandoff=19,
               minor=dict(ticks='outside', ticklen=12, tickwidth=1.5, tickcolor=RED, tickmode='array',
                          tickvals=[20, 40, 60, 80, 120, 140, 160, 180])),
    xaxis2=dict(common, domain=[P(657.5), P(1075.7)], anchor='y5', type='date',
                range=[ihour(5.07), ihour(48.73)], showline=True, mirror=True, linecolor='black',
                linewidth=1.5, ticks='outside', ticklen=16, tickwidth=1.5, tickcolor='black',
                tickmode='array', tickvals=[ihour(h) for h in inset_tick_hours], ticktext=inset_tick_text,
                tickfont=dict(family=AF, size=20, color='black'), ticklabelstandoff=0,
                minor=dict(ticks='outside', ticklen=8, tickwidth=1.5, tickcolor='black',
                           tickmode='linear', tick0='2009-03-20', dtick=7200000)),
    yaxis5=yax(IBLUE, 20, family=AF, domain=[Q(336.7), Q(64)], anchor='x2', side='right',
               range=[-1.18, 42.2], ticklen=16, tickmode='array', tickvals=[0, 10, 20, 30, 40],
               ticklabelstandoff=5,
               minor=dict(ticks='outside', ticklen=8, tickwidth=1.5, tickcolor=IBLUE,
                          tickmode='linear', tick0=0, dtick=2)),
    yaxis6=yax(RED, 20, family=AF, overlaying='y5', side='left', anchor='x2',
               range=[-4.2, 150.4], ticklen=16, tickmode='array',
               tickvals=[0, 20, 40, 60, 80, 100, 120, 140], ticklabelstandoff=4,
               minor=dict(ticks='outside', ticklen=8, tickwidth=1.5, tickcolor=RED,
                          tickmode='linear', tick0=0, dtick=10)),
    xaxis3=dict(common, domain=[P(1420.7), P(1816)], anchor='y7', range=[-1.15, 39.14],
                showline=True, mirror=True, linecolor='black', linewidth=1.5,
                ticks='outside', ticklen=17, tickwidth=1.5, tickcolor='black',
                tickmode='array', tickvals=[0, 10, 20, 30],
                tickfont=dict(family=MF, size=26, color='black'), ticklabelstandoff=1,
                minor=dict(ticks='outside', ticklen=10, tickwidth=1.5, tickcolor='black',
                           tickmode='linear', tick0=0, dtick=1)),
    yaxis7=dict(common, domain=[Q(349.3), Q(8.3)], anchor='x3', range=[-3.15, 63.9],
                showline=True, mirror=True, linecolor='black', linewidth=1.5,
                ticks='outside', ticklen=17, tickwidth=1.5, tickcolor='black',
                tickmode='array', tickvals=[0, 20, 40, 60],
                tickfont=dict(family=MF, size=26, color='black'), ticklabelstandoff=6,
                minor=dict(ticks='outside', ticklen=8, tickwidth=1.5, tickcolor='black',
                           tickmode='linear', tick0=0, dtick=2.5)),
)
fig.update_layout(**layout)

shapes = []
# daily vertical dashed grid lines (partly hidden behind the insets in the original)
grid_days = list(range(14, 45))
for d in grid_days:
    top = 125 if d <= 20 else (440 if d <= 34 else 453)
    shapes.append(dict(type='line', xref='x', yref='paper', x0=mday(d), x1=mday(d),
                       y0=Q(1029.3), y1=Q(top), layer='below',
                       line=dict(color='#b4b4b4', width=1, dash='4px,3px')))
# dashed zero line of Cl2
shapes.append(dict(type='line', xref='paper', yref='y', x0=P(171), x1=P(1690.6), y0=0, y1=0,
                   layer='below', line=dict(color='#ff5a5a', width=1.5, dash='18px,14px')))
# visible pieces of the top frame
for x0, x1 in [(171, 535), (1189, 1316)]:
    shapes.append(dict(type='line', xref='paper', yref='paper', x0=P(x0), x1=P(x1),
                       y0=Q(125), y1=Q(125), line=dict(color='black', width=1)))
# main legend
shapes.append(dict(type='rect', xref='paper', yref='paper', x0=P(219.5), x1=P(349.5),
                   y0=Q(305), y1=Q(213), fillcolor='white', line=dict(color='#444444', width=1.5),
                   layer='above'))
shapes.append(dict(type='line', xref='paper', yref='paper', x0=P(227), x1=P(287.5),
                   y0=Q(236), y1=Q(236), line=dict(color=RED, width=3)))
shapes.append(dict(type='line', xref='paper', yref='paper', x0=P(227), x1=P(287.5),
                   y0=Q(279), y1=Q(279), line=dict(color=BLUE, width=3)))
# highlighted period
shapes.append(dict(type='rect', xref='x', yref='paper', x0=mday(20.075), x1=mday(22.164),
                   y0=Q(1029.5), y1=Q(461), line=dict(color='black', width=4),
                   fillcolor='rgba(0,0,0,0)', layer='above'))
# histogram legend symbols
shapes.append(dict(type='rect', xref='paper', yref='paper', x0=P(1441), x1=P(1466),
                   y0=Q(47), y1=Q(31), fillcolor='white', line=dict(color='black', width=1.5)))
shapes.append(dict(type='line', xref='paper', yref='paper', x0=P(1428), x1=P(1478),
                   y0=Q(83), y1=Q(83), line=dict(color=FIT, width=3.5, dash='22px,20px')))
fig.update_layout(shapes=shapes)

def ann(text, x, y, size, color='black', angle=0, family=MF, xanchor='center', yanchor='middle'):
    return dict(text=text, x=P(x), y=Q(y), xref='paper', yref='paper', showarrow=False,
                textangle=angle, xanchor=xanchor, yanchor=yanchor,
                font=dict(family=family, size=size, color=color))

annotations = [
    ann('Cl<sub>2</sub> (pptv)', 32, 426, 35, RED, -90),
    ann('O<sub>3</sub> (pptv)', 27, 893, 35, BLUE, -90),
    ann('Cl<sub>2</sub> (pptv)', 1839, 426, 35, RED, 90),
    ann('O<sub>3</sub> (pptv)', 1838, 900, 35, BLUE, 90),
    ann('Alaska Standard Time (Year 2009)', 960, 1164, 37),
    ann('Cl<sub>2</sub>', 301, 238, 31, xanchor='left'),
    ann('O<sub>3</sub>', 301, 281, 31, xanchor='left'),
    ann('Cl<sub>2</sub> (pptv)', 588, 201, 20, RED, -90, family=AF),
    ann('O<sub>3</sub> (ppbv)', 1142, 200, 20, IBLUE, 90, family=AF),
    ann('AST', 897, 419, 21, family=AF),
    ann('O<sub>3</sub> (ppbv)', 1617, 432, 27),
    ann('daytime Cl<sub>2</sub> (pptv)', 1338, 173, 27, angle=-90),
    ann('Avg. Cl<sub>2</sub>', 1488, 37, 26, xanchor='left'),
    ann('Linear fit: R<sup>2</sup> = 0.86', 1488, 82, 26, xanchor='left'),
    dict(x=P(615), y=Q(392), xref='paper', yref='paper', ax=-48, ay=62, axref='pixel', ayref='pixel',
         showarrow=True, arrowhead=4, arrowsize=1, arrowwidth=4, arrowcolor='black', text=''),
]
fig.update_layout(annotations=annotations)

fig.write_html("out.html", config={'displayModeBar': False},
               post_script="document.body.style.margin='0';document.body.style.overflow='hidden';")
